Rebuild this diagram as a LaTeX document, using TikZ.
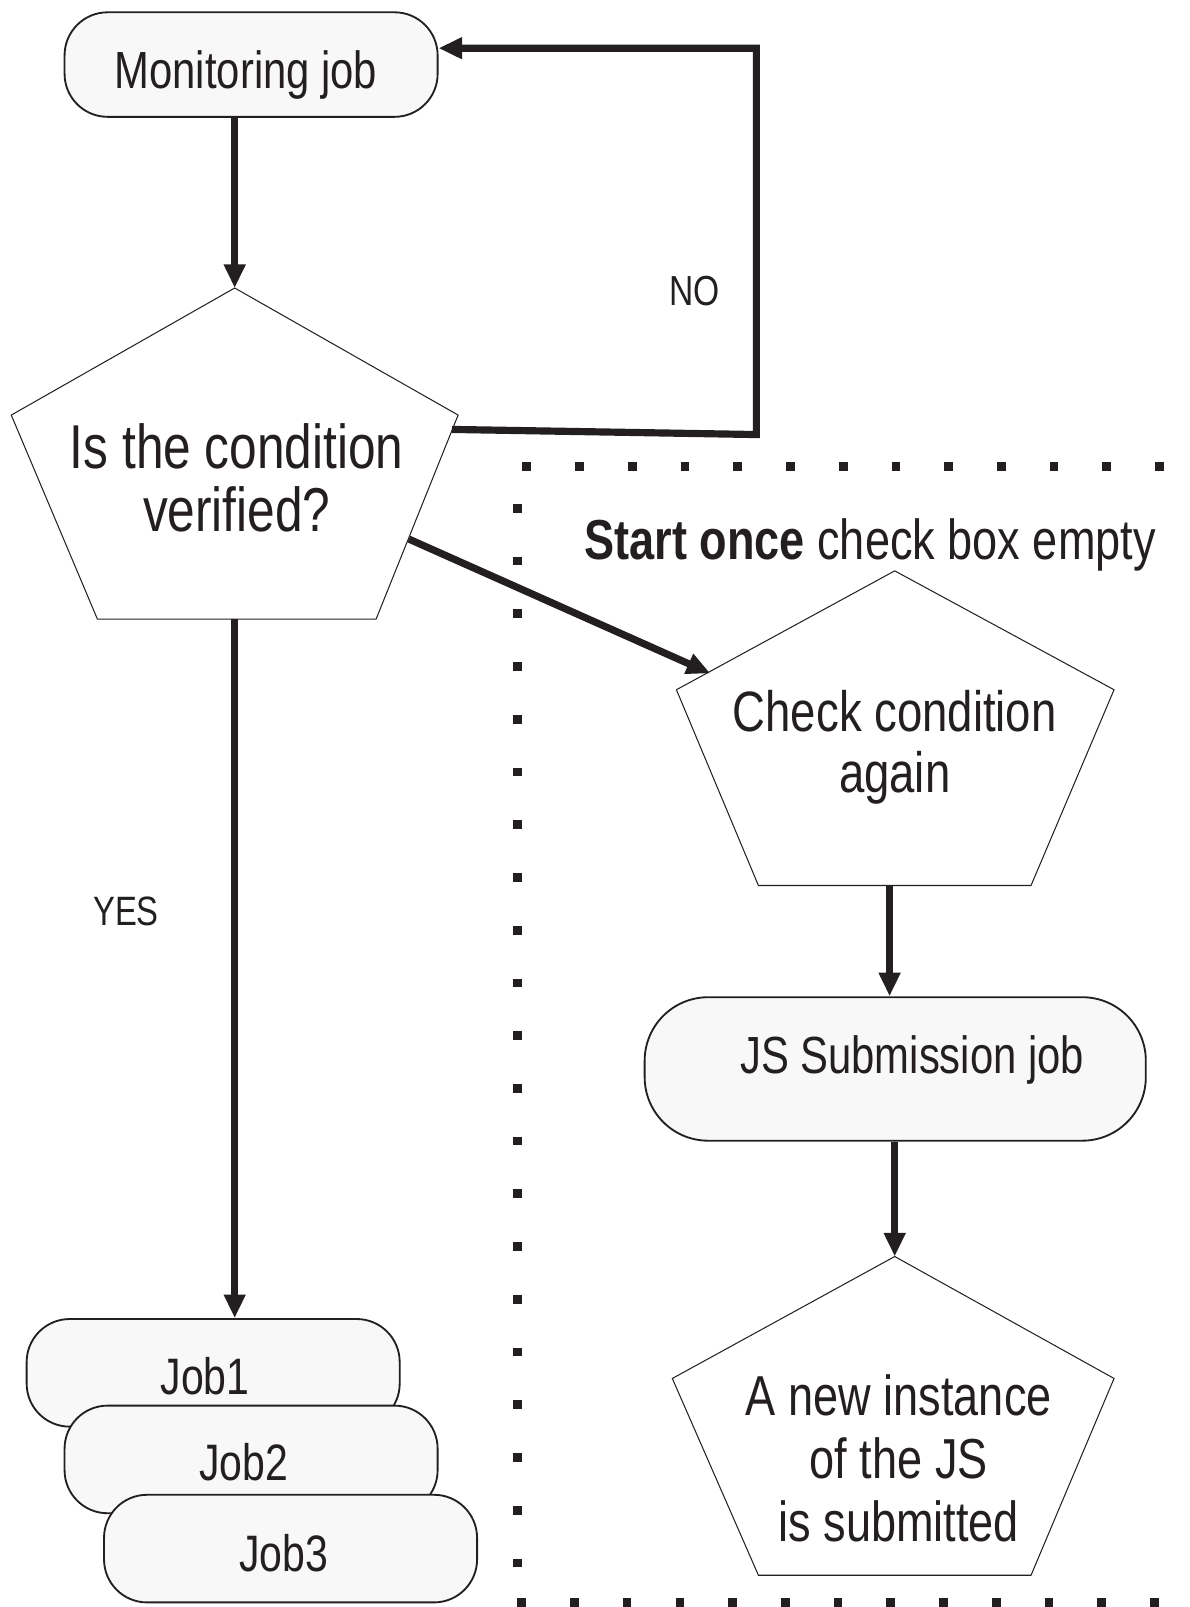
\documentclass[tikz,border=0pt]{standalone}
\usepackage{fontspec}
\setmainfont[FakeStretch=0.80]{Liberation Sans}
\usetikzlibrary{arrows.meta}
\definecolor{ink}{HTML}{231F20}
\definecolor{boxfill}{HTML}{F8F8F8}

\begin{document}
\begin{tikzpicture}[x=1pt,y=-1pt,
  flow/.style={draw=ink, line width=7pt, line join=miter,
    -{Triangle[length=23pt,width=20pt]}},
  jobbox/.style={draw=ink, line width=1.8pt, fill=boxfill,
    rounded corners=42pt, minimum width=364pt, minimum height=105pt,
    inner sep=0pt},
  penta/.style={draw=ink, line width=1pt, fill=white},
  txt/.style={text=ink, inner sep=0pt},
  dots/.style={draw=ink, line width=8.5pt, dash pattern=on 8.5pt off 42.95pt}
]
\useasboundingbox (0,0) rectangle (1161,1568);

% dotted frame around the "start once" branch
\draw[dots] (509.75,455) -- (1161,455);
\draw[dots] (505,491.75) -- (505,1530);
\draw[dots] (504.75,1563.5) -- (1161,1563.5);

% monitoring job
\node[jobbox, minimum height=102pt] (mon) at (245,63) {};
\node[txt, anchor=base, font=\fontsize{51}{57}\selectfont] (montxt) at (240,86) {Monitoring job};

% decision pentagon
\coordinate (p1t) at (229,281);
\coordinate (p1r) at (447,405);
\coordinate (p1br) at (367,604);
\coordinate (p1bl) at (95,604);
\coordinate (p1l) at (11,405);
\draw[penta] (p1t) -- (p1r) -- (p1br) -- (p1bl) -- (p1l) -- cycle;
\node[txt, align=center, font=\fontsize{60.5}{61}\selectfont] (q1) at (231,466)
  {Is the condition\\verified?};

% check pentagon
\coordinate (p2t) at (873,557);
\coordinate (p2r) at (1087,673);
\coordinate (p2br) at (1006,864);
\coordinate (p2bl) at (740,864);
\coordinate (p2l) at (660,673);
\draw[penta] (p2t) -- (p2r) -- (p2br) -- (p2bl) -- (p2l) -- cycle;
\node[txt, align=center, font=\fontsize{55.5}{60}\selectfont] (q2) at (873,729)
  {Check condition\\again};

% submission job
\node[jobbox, minimum width=489pt, minimum height=140pt, rounded corners=62pt] (js) at (873.5,1043) {};
\node[txt, anchor=base, font=\fontsize{51}{57}\selectfont] (jstxt) at (890,1047) {JS Submission job};

% result pentagon
\coordinate (p3t) at (873,1226);
\coordinate (p3r) at (1087,1345);
\coordinate (p3br) at (1006,1537);
\coordinate (p3bl) at (740,1537);
\coordinate (p3l) at (656,1345);
\draw[penta] (p3t) -- (p3r) -- (p3br) -- (p3bl) -- (p3l) -- cycle;
\node[txt, align=center, font=\fontsize{55}{61.5}\selectfont] (q3) at (877,1423)
  {A new instance\\of the JS\\is submitted};

% stacked jobs
\node[jobbox] (job1) at (208,1339.5) {};
\node[txt, anchor=base, font=\fontsize{50}{56}\selectfont] (job1txt) at (200,1361) {Job1};
\node[jobbox] (job2) at (245,1424) {};
\node[txt, anchor=base, font=\fontsize{50}{56}\selectfont] (job2txt) at (238,1445) {Job2};
\node[jobbox] (job3) at (283.5,1511) {};
\node[txt, anchor=base, font=\fontsize{50}{56}\selectfont] (job3txt) at (277,1533) {Job3};

% labels
\node[txt, anchor=base west, font=\fontsize{55}{60}\selectfont] (hdr) at (570,546)
  {\textbf{Start once} check box empty};
\node[txt, anchor=base, font=\fontsize{40}{46}\selectfont] (yes) at (123,903) {YES};
\node[txt, anchor=base, font=\fontsize{41}{46}\selectfont] (no) at (678,298) {NO};

% connectors
\coordinate (noA) at (441,419);
\coordinate (noB) at (738,424);
\coordinate (noC) at (738,47);
\coordinate (toP2a) at (399,526);
\coordinate (toP2b) at (693,657);
\coordinate (p2out) at (868,864);

\draw[flow] (mon.south -| p1t) -- (p1t);
\draw[flow] (noA) -- (noB) -- (noC) -- (mon.east |- noC);
\draw[flow] (p1bl -| p1t) -- (p1t |- job1.north);
\draw[flow] (toP2a) -- (toP2b);
\draw[flow] (p2out) -- (p2out |- js.north);
\draw[flow] (js.south -| p3t) -- (p3t);
\end{tikzpicture}
\end{document}
